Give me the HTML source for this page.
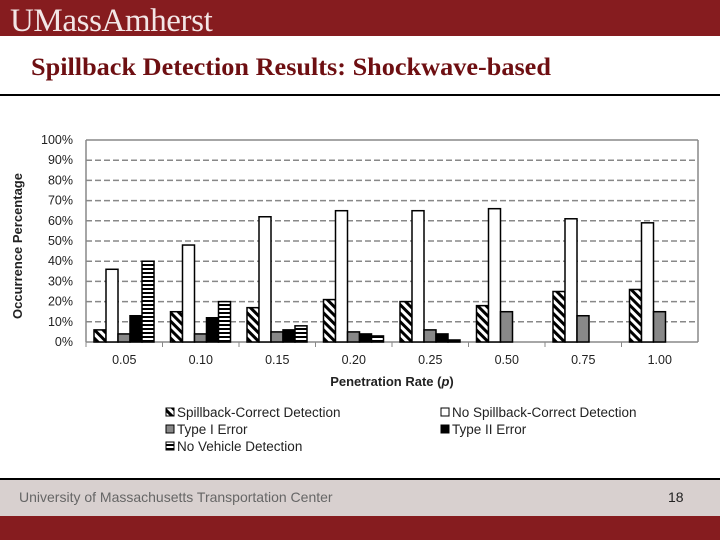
<!DOCTYPE html>
<html><head><meta charset="utf-8"><style>
body{margin:0;width:720px;height:540px;position:relative;background:#fff;overflow:hidden;font-family:"Liberation Sans",sans-serif}
.abs{position:absolute}
</style></head><body>
<div class="abs" style="left:0;top:0;width:720px;height:36px;background:#861c1f"></div>
<div class="abs" style="left:10px;top:3px;font-family:'Liberation Serif',serif;font-size:33px;color:#f3e6e6;letter-spacing:-0.4px;line-height:36px">UMassAmherst</div>
<div class="abs" style="left:31px;top:54px;font-family:'Liberation Serif',serif;font-weight:bold;font-size:25px;transform:scaleX(1.05);transform-origin:left top;white-space:nowrap;color:#6e0f12">Spillback Detection Results: Shockwave-based</div>
<div class="abs" style="left:0;top:94px;width:720px;height:2px;background:#000"></div>
<svg class="abs" style="left:0;top:0" width="720" height="470">
<defs>
<pattern id="hatch" width="6" height="6" patternUnits="userSpaceOnUse" patternTransform="rotate(-45)"><rect width="6" height="6" fill="#fff"/><rect width="3" height="6" fill="#000"/></pattern>
<pattern id="hstripe" width="4" height="4" patternUnits="userSpaceOnUse"><rect width="4" height="4" fill="#fff"/><rect width="4" height="2" fill="#000"/></pattern>
</defs>
<g id="grid"></g><g id="bars"></g><g id="axes"></g>
<text x="22" y="246" transform="rotate(-90 22 246)" text-anchor="middle" font-size="13" font-weight="bold" fill="#222">Occurrence Percentage</text>
<text x="392" y="386" text-anchor="middle" font-size="13" font-weight="bold" fill="#222">Penetration Rate (<tspan font-style="italic">p</tspan>)</text>
<g font-size="13.5" fill="#222">
<rect x="166" y="408" width="8" height="8" fill="url(#hatch)" stroke="#000"/><text x="177" y="417">Spillback-Correct Detection</text>
<rect x="166" y="425" width="8" height="8" fill="#888" stroke="#000"/><text x="177" y="434">Type I Error</text>
<rect x="166" y="442" width="8" height="8" fill="url(#hstripe)" stroke="#000"/><text x="177" y="451">No Vehicle Detection</text>
<rect x="441" y="408" width="8" height="8" fill="#fff" stroke="#000"/><text x="452" y="417">No Spillback-Correct Detection</text>
<rect x="441" y="425" width="8" height="8" fill="#000" stroke="#000"/><text x="452" y="434">Type II Error</text>
</g>
</svg>
<div class="abs" style="left:0;top:478px;width:720px;height:2px;background:#000"></div>
<div class="abs" style="left:0;top:480px;width:720px;height:36px;background:#d8d0cf"></div>
<div class="abs" style="left:19px;top:489px;font-size:14px;color:#666">University of Massachusetts Transportation Center</div>
<div class="abs" style="left:668px;top:489px;font-size:14px;color:#222">18</div>
<div class="abs" style="left:0;top:516px;width:720px;height:24px;background:#861c1f"></div>
<script>
const categories=["0.05","0.10","0.15","0.20","0.25","0.50","0.75","1.00"];
const spillbackCorrect=[6,15,17,21,20,18,25,26];
const noSpillbackCorrect=[36,48,62,65,65,66,61,59];
const typeIError=[4,4,5,5,6,15,13,15];
const typeIIError=[13,12,6,4,4,0,0,0];
const noVehicle=[40,20,8,3,1,0,0,0];
const yTicks=[0,10,20,30,40,50,60,70,80,90,100];
const NS="http://www.w3.org/2000/svg";
const X0=86,X1=698,Y0=342,Y1=140;
const y=v=>Y0-(v/100)*(Y0-Y1);
const gw=(X1-X0)/categories.length;
function mk(tag,a,parent){const e=document.createElementNS(NS,tag);for(const k in a)e.setAttribute(k,a[k]);parent.appendChild(e);return e;}
const grid=document.getElementById('grid'),bars=document.getElementById('bars'),axes=document.getElementById('axes');
yTicks.forEach(t=>{
  const l=mk('line',{x1:X0,x2:X1,y1:y(t),y2:y(t),stroke:'#888','stroke-width':1.5,'stroke-dasharray':t==100||t==0?'':'6,3'},grid);
  
  
  const tx=mk('text',{x:X0-13,y:y(t)+4,'text-anchor':'end','font-size':12.5,fill:'#222'},axes);
  tx.textContent=t+'%';
  
  
});
mk('line',{x1:X0,x2:X0,y1:Y1,y2:Y0,stroke:'#888','stroke-width':1.5},axes);
mk('line',{x1:X1,x2:X1,y1:Y1,y2:Y0,stroke:'#888','stroke-width':1.5},axes);
const series=[[spillbackCorrect,'url(#hatch)'],[noSpillbackCorrect,'#fff'],[typeIError,'#888'],[typeIIError,'#000'],[noVehicle,'url(#hstripe)']];
const bw=12;
categories.forEach((c,i)=>{
  const gx=X0+i*gw;
  series.forEach((s,j)=>{
    const v=s[0][i];if(v<=0)return;
    const r=mk('rect',{x:gx+8+j*bw,y:y(v),width:bw,height:Y0-y(v),fill:s[1],stroke:'#000','stroke-width':1.5},bars);
    
    
  });
  mk('line',{x1:gx,x2:gx,y1:Y0,y2:Y0+5,stroke:'#888'},axes);
  const tx=mk('text',{x:gx+gw/2,y:Y0+22,'text-anchor':'middle','font-size':12.5,fill:'#222'},axes);
  tx.textContent=c;
  
  
});
</script>
</body></html>
